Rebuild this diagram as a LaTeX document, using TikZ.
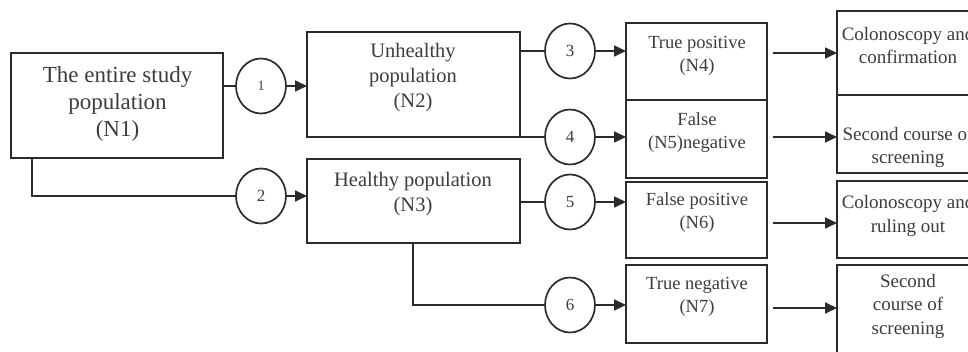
\documentclass[tikz,border=0pt]{standalone}
\usepackage{fontspec}
\setmainfont{Liberation Serif}
\usetikzlibrary{arrows.meta,shapes.geometric}
\definecolor{ln}{HTML}{2B2B2B}
\definecolor{tx}{HTML}{3C3C3C}
\tikzset{
  box/.style={draw=ln, line width=1.7pt, rectangle, inner sep=0pt, outer sep=0pt},
  num/.style={draw=ln, line width=1.7pt, ellipse, minimum width=50pt, minimum height=55pt, inner sep=0pt, outer sep=0pt, text=tx, font=\fontsize{17}{17}\selectfont},
  conn/.style={draw=ln, line width=1.7pt},
  arr/.style={conn, -{Triangle[length=12pt,width=11pt]}},
  tbig/.style={text=tx, align=center, inner sep=0pt, font=\fontsize{23}{27}\selectfont},
  tmid/.style={text=tx, align=center, inner sep=0pt, font=\fontsize{20.5}{25}\selectfont},
  tsml/.style={text=tx, align=center, inner sep=0pt, font=\fontsize{18.5}{23}\selectfont},
  trgt/.style={text=tx, align=center, inner sep=0pt, font=\fontsize{19}{23.5}\selectfont},
}
\begin{document}
\begin{tikzpicture}[x=1pt,y=-1pt]
\useasboundingbox (0,0) rectangle (968,352);
\clip (0,0) rectangle (968,352);
% boxes
\node[box, minimum width=212pt, minimum height=105pt] (n1) at (117,105.5) {};
\node[box, minimum width=213pt, minimum height=105pt] (n2) at (413.5,84.5) {};
\node[box, minimum width=213pt, minimum height=84pt] (n3) at (413.5,201) {};
\node[box, minimum width=141pt, minimum height=77pt] (n4) at (696.5,61.5) {};
\node[box, minimum width=141pt, minimum height=78pt] (n5) at (696.5,139) {};
\node[box, minimum width=141pt, minimum height=76pt] (n6) at (696.5,220) {};
\node[box, minimum width=141pt, minimum height=78pt] (n7) at (696.5,304) {};
\node[box, minimum width=142pt, minimum height=84pt] (r1) at (908,53) {};
\node[box, minimum width=142pt, minimum height=78pt] (r2) at (908,134) {};
\node[box, minimum width=142pt, minimum height=77pt] (r3) at (908,219.5) {};
\node[box, minimum width=142pt, minimum height=110pt] (r4) at (908,320) {};
% texts
\node[tbig] (t1) at (117.5,104) {The entire study\\population\\(N1)};
\node[tmid] (t2) at (413,78) {Unhealthy\\population\\(N2)};
\node[tmid] (t3) at (413,194.5) {Healthy population\\(N3)};
\node[tsml] (t4) at (697,56) {True positive\\(N4)};
\node[tsml] (t5) at (697,132.5) {False\\(N5)negative};
\node[tsml] (t6) at (697,213) {False positive\\(N6)};
\node[tsml] (t7) at (697,296.5) {True negative\\(N7)};
\node[trgt] (u1) at (908,45.5) {Colonoscopy and\\confirmation};
\node[trgt] (u2) at (908,147.5) {Second course of\\screening};
\node[trgt] (u3) at (908,216) {Colonoscopy and\\ruling out};
\node[trgt] (u4) at (908,306) {Second\\course of\\screening};
% circles
\node[num, font=\fontsize{14}{14}\selectfont] (c1) at (261,86) {1};
\node[num] (c2) at (261,196) {2};
\node[num] (c3) at (570,51) {3};
\node[num] (c4) at (570,137) {4};
\node[num] (c5) at (570,202) {5};
\node[num] (c6) at (570,305) {6};
% connectors
\coordinate (b1) at (32,158);
\coordinate (b3) at (413,243);
\draw[conn] (c1.west -| n1.east) -- (c1.west);
\draw[arr] (c1.east) -- (c1.east -| n2.west);
\draw[conn] (b1) |- (c2.west);
\draw[arr] (c2.east) -- (c2.east -| n3.west);
\draw[conn] (c3.west -| n2.east) -- (c3.west);
\draw[arr] (c3.east) -- (c3.east -| n4.west);
\draw[conn] (n2.south east) -- (c4.west |- n2.south east);
\draw[arr] (c4.east) -- (c4.east -| n5.west);
\draw[conn] (c5.west -| n3.east) -- (c5.west);
\draw[arr] (c5.east) -- (c5.east -| n6.west);
\draw[conn] (b3) |- (c6.west);
\draw[arr] (c6.east) -- (c6.east -| n7.west);
\coordinate (a4) at (773,53);
\coordinate (a5) at (773,137);
\coordinate (a6) at (773,223);
\coordinate (a7) at (773,308);
\draw[arr] (a4) -- (a4 -| r1.west);
\draw[arr] (a5) -- (a5 -| r2.west);
\draw[arr] (a6) -- (a6 -| r3.west);
\draw[arr] (a7) -- (a7 -| r4.west);
\end{tikzpicture}
\end{document}
